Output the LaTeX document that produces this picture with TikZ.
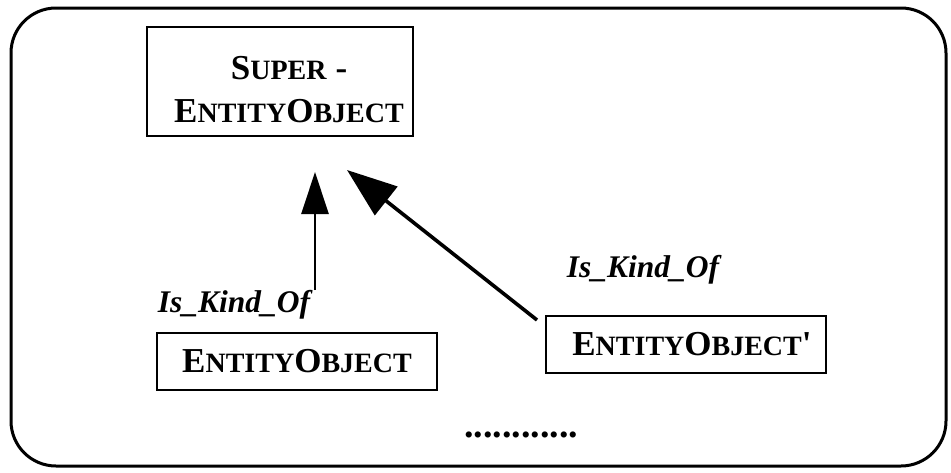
\documentclass[tikz,border=0pt]{standalone}
\usepackage{fontspec}
\setmainfont{Liberation Serif}
\usetikzlibrary{arrows.meta}
% hand-made small capitals: full-size initial, reduced remainder
\newcommand\capbig[1]{{\fontsize{35}{43}\selectfont #1}}
\newcommand\capsmall[1]{{\fontsize{28}{43}\selectfont #1}}
\tikzset{
  classbox/.style={draw, line width=1.6pt, font=\bfseries\fontsize{35}{43}\selectfont,
    inner sep=0pt, align=center},
  relabel/.style={font=\bfseries\itshape\fontsize{31.5}{34}\selectfont, inner sep=0pt},
}
\begin{document}
\begin{tikzpicture}[x=1pt,y=-1pt]
\useasboundingbox (0,0) rectangle (951,472);
% frame
\draw[line width=3pt, rounded corners=45pt] (11,8) rectangle (946,466);
% super class (struts push the two lines slightly down and right)
\node[classbox, minimum width=266pt, minimum height=109pt] (super) at (280,81.5)
  {\rule{0pt}{40pt}\hspace*{18pt}\capbig{S}\capsmall{UPER}\hspace{9pt}\capbig{-}\\
   \hspace*{18pt}\capbig{E}\capsmall{NTITY}\capbig{O}\capsmall{BJECT}};
% subclasses
\node[classbox, minimum width=280pt, minimum height=57pt] (sub1) at (297,361.5)
  {\capbig{E}\capsmall{NTITY}\capbig{O}\capsmall{BJECT}};
\node[classbox, minimum width=280pt, minimum height=57pt] (sub2) at (686,344.5)
  {\hspace*{12pt}\capbig{E}\capsmall{NTITY}\capbig{O}\capsmall{BJECT}\capbig{\textquotesingle}};
% relation labels
\node[relabel] (lab1) at (234,305) {Is\_Kind\_Of};
\node[relabel] (lab2) at (643,270) {Is\_Kind\_Of};
% endpoints of the generalisation arrows
\coordinate (a1) at (315,290);
\coordinate (t1) at (315,172);
\coordinate (a2) at (537,320);
\coordinate (t2) at (347,170);
\draw[line width=2.6pt, -{Triangle[length=42pt,width=27pt]}] (a1) -- (t1);
\draw[line width=3.6pt, -{Triangle[length=50pt,width=36pt]}] (a2) -- (t2);
% ellipsis for further subclasses
\node[font=\bfseries\fontsize{38}{38}\selectfont, inner sep=0pt] (more) at (521,435) {............};
\end{tikzpicture}
\end{document}
